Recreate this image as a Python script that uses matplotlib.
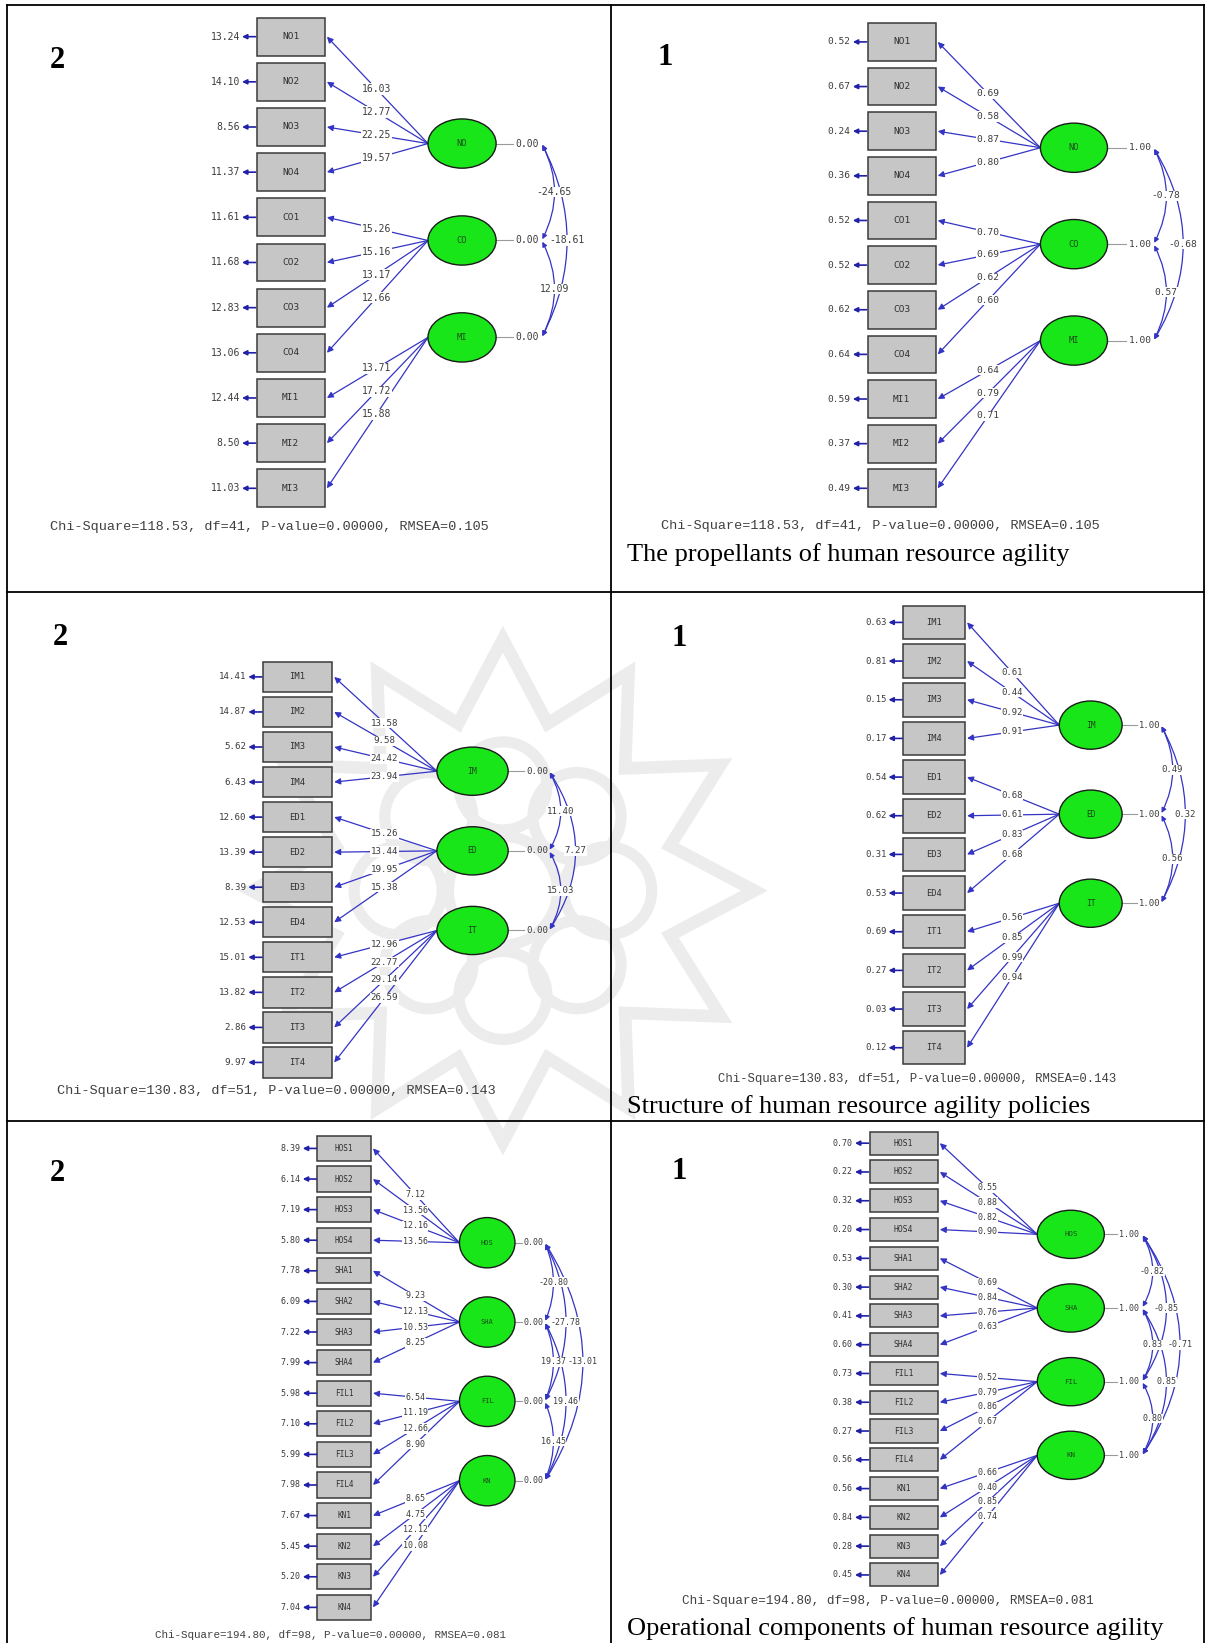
import itertools

import numpy as np
import matplotlib
matplotlib.use('Agg')
from matplotlib import pyplot as plt
from matplotlib.patches import Rectangle, Ellipse, FancyArrowPatch, Polygon, Circle


# ---- data: propellants of HR agility ----
prop_items = ['NO1', 'NO2', 'NO3', 'NO4', 'CO1', 'CO2', 'CO3', 'CO4', 'MI1', 'MI2', 'MI3']
prop_factors = ['NO', 'CO', 'MI']
prop_groups = [0, 0, 0, 0, 1, 1, 1, 1, 2, 2, 2]
prop_t_err = [13.24, 14.10, 8.56, 11.37, 11.61, 11.68, 12.83, 13.06, 12.44, 8.50, 11.03]
prop_t_load = [16.03, 12.77, 22.25, 19.57, 15.26, 15.16, 13.17, 12.66, 13.71, 17.72, 15.88]
prop_t_var = [0.00, 0.00, 0.00]
prop_t_cov = [-24.65, -18.61, 12.09]          # NO-CO, NO-MI, CO-MI
prop_s_err = [0.52, 0.67, 0.24, 0.36, 0.52, 0.52, 0.62, 0.64, 0.59, 0.37, 0.49]
prop_s_load = [0.69, 0.58, 0.87, 0.80, 0.70, 0.69, 0.62, 0.60, 0.64, 0.79, 0.71]
prop_s_var = [1.00, 1.00, 1.00]
prop_s_cov = [-0.78, -0.68, 0.57]
prop_chi = 'Chi-Square=118.53, df=41, P-value=0.00000, RMSEA=0.105'

# ---- data: structure of HR agility policies ----
pol_items = ['IM1', 'IM2', 'IM3', 'IM4', 'ED1', 'ED2', 'ED3', 'ED4', 'IT1', 'IT2', 'IT3', 'IT4']
pol_factors = ['IM', 'ED', 'IT']
pol_groups = [0, 0, 0, 0, 1, 1, 1, 1, 2, 2, 2, 2]
pol_t_err = [14.41, 14.87, 5.62, 6.43, 12.60, 13.39, 8.39, 12.53, 15.01, 13.82, 2.86, 9.97]
pol_t_load = [13.58, 9.58, 24.42, 23.94, 15.26, 13.44, 19.95, 15.38, 12.96, 22.77, 29.14, 26.59]
pol_t_var = [0.00, 0.00, 0.00]
pol_t_cov = [11.40, 7.27, 15.03]
pol_s_err = [0.63, 0.81, 0.15, 0.17, 0.54, 0.62, 0.31, 0.53, 0.69, 0.27, 0.03, 0.12]
pol_s_load = [0.61, 0.44, 0.92, 0.91, 0.68, 0.61, 0.83, 0.68, 0.56, 0.85, 0.99, 0.94]
pol_s_var = [1.00, 1.00, 1.00]
pol_s_cov = [0.49, 0.32, 0.56]
pol_chi = 'Chi-Square=130.83, df=51, P-value=0.00000, RMSEA=0.143'

# ---- data: operational components of HR agility ----
op_items = ['HOS1', 'HOS2', 'HOS3', 'HOS4', 'SHA1', 'SHA2', 'SHA3', 'SHA4',
            'FIL1', 'FIL2', 'FIL3', 'FIL4', 'KN1', 'KN2', 'KN3', 'KN4']
op_factors = ['HOS', 'SHA', 'FIL', 'KN']
op_groups = [0, 0, 0, 0, 1, 1, 1, 1, 2, 2, 2, 2, 3, 3, 3, 3]
op_t_err = [8.39, 6.14, 7.19, 5.80, 7.78, 6.09, 7.22, 7.99,
            5.98, 7.10, 5.99, 7.98, 7.67, 5.45, 5.20, 7.04]
op_t_load = [7.12, 13.56, 12.16, 13.56, 9.23, 12.13, 10.53, 8.25,
             6.54, 11.19, 12.66, 8.90, 8.65, 4.75, 12.12, 10.08]
op_t_var = [0.00, 0.00, 0.00, 0.00]
op_t_cov = [-20.80, -27.78, -13.01, 19.37, 19.46, 16.45]   # HS-SH, HS-FI, HS-KN, SH-FI, SH-KN, FI-KN
op_s_err = [0.70, 0.22, 0.32, 0.20, 0.53, 0.30, 0.41, 0.60,
            0.73, 0.38, 0.27, 0.56, 0.56, 0.84, 0.28, 0.45]
op_s_load = [0.55, 0.88, 0.82, 0.90, 0.69, 0.84, 0.76, 0.63,
             0.52, 0.79, 0.86, 0.67, 0.66, 0.40, 0.85, 0.74]
op_s_var = [1.00, 1.00, 1.00, 1.00]
op_s_cov = [-0.82, -0.85, -0.71, 0.83, 0.85, 0.80]
op_chi = 'Chi-Square=194.80, df=98, P-value=0.00000, RMSEA=0.081'

captions = ['The propellants of human resource agility',
            'Structure of human resource agility policies',
            'Operational components of human resource agility']

LINE = '#3434c4'
NUM = '#3c3c3c'
MONO = 'DejaVu Sans Mono'


def draw_panel(ax, items, factors, groups, err, load, var, cov, chi, lay):
    bx, bw, bh = lay['box']
    ys = lay['y0'] + lay['dy'] * np.arange(len(items))
    fx, fw, fh = lay['fac']
    fys = lay['fy0'] + lay['fdy'] * np.arange(len(factors))
    fs = lay['fs']
    lx = (bx + bw + fx - fw / 2) / 2

    for i, name in enumerate(items):
        y = ys[i]
        ax.add_patch(Rectangle((bx, y - bh / 2), bw, bh, fc='#c6c6c6', ec='#3a3a3a',
                               lw=1.1, zorder=3))
        ax.text(bx + bw / 2, y, name, ha='center', va='center', fontsize=lay['bfs'],
                family=MONO, color='#303030', zorder=4)
        ax.add_patch(FancyArrowPatch((bx - 1, y), (bx - 14, y), arrowstyle='-|>',
                                     mutation_scale=7, color='#2020a8', lw=1.2,
                                     shrinkA=0, shrinkB=0, zorder=3))
        ax.text(bx - 16, y, f'{err[i]:.2f}', ha='right', va='center', fontsize=fs,
                family=MONO, color=NUM, zorder=4)

        x0, y0 = fx - fw / 2, fys[groups[i]]
        x1, y1 = bx + bw + 2, y
        ax.add_patch(FancyArrowPatch((x0, y0), (x1, y1), arrowstyle='-|>',
                                     mutation_scale=9, color=LINE, lw=0.9,
                                     shrinkA=0, shrinkB=0, zorder=2))
        ly = y0 + (y1 - y0) * (lx - x0) / (x1 - x0)
        ax.text(lx, ly, f'{load[i]:.2f}', ha='center', va='center', fontsize=fs,
                family=MONO, color=NUM, zorder=4,
                bbox=dict(fc='white', ec='none', pad=0.4))

    vx = lay['var_x']
    for j, name in enumerate(factors):
        fy = fys[j]
        ax.add_patch(Ellipse((fx, fy), fw, fh, fc='#19e619', ec='#1a1a1a', lw=1.0, zorder=3))
        ax.text(fx, fy, name, ha='center', va='center', fontsize=lay['bfs'] - 0.5,
                family=MONO, color='#1a4a1a', zorder=4)
        ax.plot([fx + fw / 2, vx - 2], [fy, fy], color='#9a9a9a', lw=0.8, zorder=2)
        ax.text(vx, fy, f'{var[j]:.2f}', ha='left', va='center', fontsize=fs,
                family=MONO, color=NUM, zorder=4)

    cx = lay['arc_x']
    for (a, b), val in zip(itertools.combinations(range(len(factors)), 2), cov):
        bulge = lay['bulge'][b - a - 1]
        d = fys[b] - fys[a]
        ax.add_patch(FancyArrowPatch((cx, fys[b]), (cx, fys[a]), arrowstyle='<|-|>',
                                     connectionstyle=f'arc3,rad={2 * bulge / d:.3f}',
                                     mutation_scale=7, color=LINE, lw=0.9,
                                     shrinkA=1, shrinkB=1, zorder=2))
        ax.text(cx + bulge, (fys[a] + fys[b]) / 2, f'{val:.2f}', ha='center', va='center',
                fontsize=fs, family=MONO, color=NUM, zorder=4,
                bbox=dict(fc='white', ec='none', pad=0.3))

    ax.text(lay['chi'][0], lay['chi'][1], chi, ha='left', va='center',
            fontsize=lay['chi'][2], family='Liberation Mono', color='#404040')
    ax.text(lay['num'][0], lay['num'][1], lay['num'][2], ha='center', va='center',
            fontsize=22, family='Liberation Serif', weight='bold', color='black')


def draw_emblem(ax, cx, cy):
    # faint watermark rosette behind the middle row
    col = '#ececec'
    n = 12
    ang = np.linspace(0, 2 * np.pi, 2 * n, endpoint=False) + np.pi / 2
    rad = np.where(np.arange(2 * n) % 2 == 0, 240, 165)
    pts = np.column_stack([cx + rad * np.cos(ang), cy + rad * np.sin(ang)])
    ax.add_patch(Polygon(pts, closed=True, fill=False, ec=col, lw=9, zorder=0))
    for t in np.linspace(0, 2 * np.pi, 8, endpoint=False):
        ax.add_patch(Circle((cx + 100 * np.cos(t), cy + 100 * np.sin(t)), 42,
                            fill=False, ec=col, lw=8, zorder=0))
    ax.add_patch(Circle((cx, cy), 52, fill=False, ec=col, lw=8, zorder=0))


def main():
    fig = plt.figure(figsize=(12.07, 16.43), dpi=100)
    ax = fig.add_axes([0, 0, 1, 1])
    ax.set_xlim(0, 1152)
    ax.set_ylim(1568, 0)
    ax.axis('off')

    draw_emblem(ax, 480, 850)

    # table frame
    for y in [5, 565, 1070]:
        ax.plot([7, 1149], [y, y], color='black', lw=1.3, zorder=1)
    for x in [7, 583, 1149]:
        ax.plot([x, x], [5, 1568], color='black', lw=1.3, zorder=1)

    layouts = [
        dict(box=(245, 65, 36), y0=35, dy=43.1, fac=(441, 65, 47), fy0=137, fdy=92.5,
             var_x=492, arc_x=517, bulge=[12, 24], fs=7.0, bfs=6.8,
             chi=(48, 503, 9.7), num=(55, 58, '2')),
        dict(box=(828, 65, 36), y0=40, dy=42.6, fac=(1025, 64, 47), fy0=141, fdy=92,
             var_x=1077, arc_x=1101, bulge=[12, 28], fs=6.8, bfs=6.8,
             chi=(631, 502, 9.7), num=(635, 55, '1')),
        dict(box=(251, 66, 29), y0=646, dy=33.45, fac=(451, 68, 46), fy0=736, fdy=76,
             var_x=502, arc_x=524, bulge=[11, 25], fs=6.6, bfs=6.4,
             chi=(54, 1041, 9.7), num=(58, 608, '2')),
        dict(box=(862, 59, 32), y0=594, dy=36.9, fac=(1041, 60, 46), fy0=692, fdy=85,
             var_x=1087, arc_x=1108, bulge=[11, 23], fs=6.4, bfs=6.2,
             chi=(685, 1030, 8.8), num=(648, 609, '1')),
        dict(box=(303, 51, 24), y0=1096, dy=29.2, fac=(465, 53, 48), fy0=1186, fdy=75.7,
             var_x=500, arc_x=520, bulge=[8, 20, 36], fs=6.0, bfs=5.6,
             chi=(148, 1560, 7.8), num=(55, 1120, '2')),
        dict(box=(830, 65, 22), y0=1091, dy=27.47, fac=(1022, 64, 46), fy0=1178, fdy=70.3,
             var_x=1068, arc_x=1090, bulge=[10, 23, 36], fs=6.0, bfs=5.8,
             chi=(651, 1528, 9.1), num=(648, 1118, '1')),
    ]

    draw_panel(ax, prop_items, prop_factors, prop_groups, prop_t_err, prop_t_load,
               prop_t_var, prop_t_cov, prop_chi, layouts[0])
    draw_panel(ax, prop_items, prop_factors, prop_groups, prop_s_err, prop_s_load,
               prop_s_var, prop_s_cov, prop_chi, layouts[1])
    draw_panel(ax, pol_items, pol_factors, pol_groups, pol_t_err, pol_t_load,
               pol_t_var, pol_t_cov, pol_chi, layouts[2])
    draw_panel(ax, pol_items, pol_factors, pol_groups, pol_s_err, pol_s_load,
               pol_s_var, pol_s_cov, pol_chi, layouts[3])
    draw_panel(ax, op_items, op_factors, op_groups, op_t_err, op_t_load,
               op_t_var, op_t_cov, op_chi, layouts[4])
    draw_panel(ax, op_items, op_factors, op_groups, op_s_err, op_s_load,
               op_s_var, op_s_cov, op_chi, layouts[5])

    for y, cap in zip([529, 1056, 1554], captions):
        ax.text(598, y, cap, ha='left', va='center', fontsize=19,
                family='Liberation Serif', color='black')

    fig.savefig('out.png', dpi=100)


if __name__ == '__main__':
    main()
